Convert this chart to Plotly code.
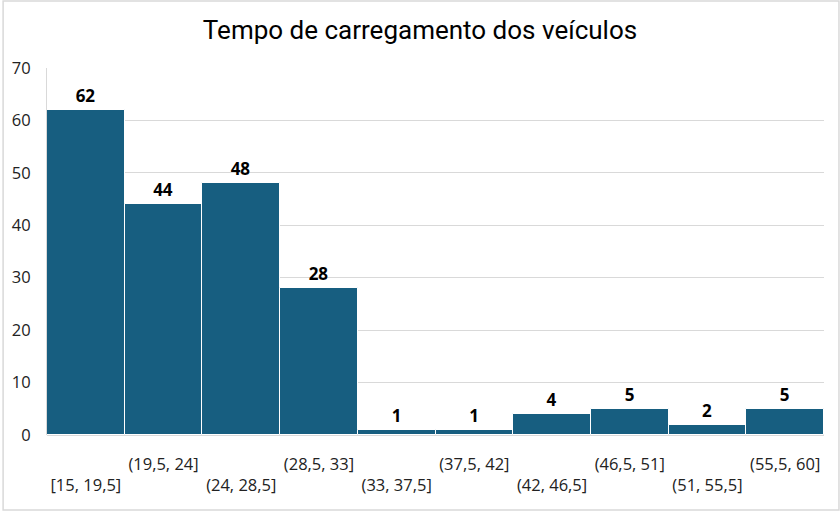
import plotly.graph_objects as go

intervals = ["[15, 19,5]", "(19,5, 24]", "(24, 28,5]", "(28,5, 33]", "(33, 37,5]",
             "(37,5, 42]", "(42, 46,5]", "(46,5, 51]", "(51, 55,5]", "(55,5, 60]"]
counts = [62, 44, 48, 28, 1, 1, 4, 5, 2, 5]
y_ticks = [0, 10, 20, 30, 40, 50, 60, 70]

# staggered labels: even ones on the lower row, odd ones on the upper row
tick_text = [("<br>" + t) if i % 2 == 0 else (t + "<br> ") for i, t in enumerate(intervals)]

fig = go.Figure(go.Bar(
    x=intervals, y=counts, text=counts, textposition="outside",
    marker=dict(color="#175E80", line=dict(color="white", width=1)),
    textfont=dict(family="Open Sans, sans-serif", size=17, color="black", weight="bold"),
    cliponaxis=False, hoverinfo="x+y"
))

fig.update_layout(
    width=840, height=511, bargap=0,
    paper_bgcolor="white", plot_bgcolor="white",
    margin=dict(l=45, r=16, t=68, b=76),
    title=dict(text="Tempo de carregamento dos veículos", x=0.5, xanchor="center",
               y=1 - 30 / 511, yanchor="middle",
               font=dict(family="Liberation Sans Narrow, Roboto, sans-serif", size=26, color="black")),
    showlegend=False,
    shapes=[dict(type="rect", xref="paper", yref="paper", x0=-44/779, x1=1+15/779,
                 y0=-75/367, y1=1+67/367, line=dict(color="#d9d9d9", width=1.5))],
)
fig.update_xaxes(tickmode="array", tickvals=intervals, ticktext=tick_text,
                 tickfont=dict(family="Open Sans, sans-serif", size=16.5, color="#222"),
                 showline=False, ticks="", tickangle=0, ticklabelstandoff=17)
fig.update_yaxes(range=[0, 70], tickvals=y_ticks, gridcolor="#d9d9d9", gridwidth=1,
                 tickfont=dict(family="Open Sans, sans-serif", size=16.5, color="#222"),
                 showline=True, linecolor="#d9d9d9", zeroline=True, zerolinecolor="#d9d9d9",
                 ticks="", ticklabelstandoff=12)

fig.write_html("out.html", config={"displayModeBar": False},
               post_script="document.body.style.margin='0';")
